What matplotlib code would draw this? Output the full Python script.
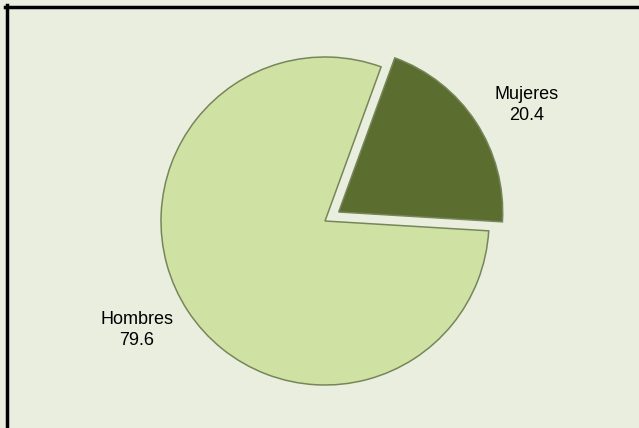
import matplotlib.pyplot as plt

# data
labels = ["Mujeres", "Hombres"]
values = [20.4, 79.6]
colors = ["#5b6d2f", "#d0e2a3"]
explode = [0.1, 0.0]

W, H = 639, 428
R = 164  # pie radius in px
cx, cy = 325, 221  # pie centre in px (from top-left)

fig = plt.figure(figsize=(W / 100, H / 100), dpi=100)
fig.patch.set_facecolor("#eaeedf")
ax = fig.add_axes([0, 0, 1, 1])
ax.set_facecolor("#eaeedf")

wedges, _ = ax.pie(
    values,
    colors=colors,
    explode=explode,
    startangle=70,
    counterclock=False,
    radius=1,
    wedgeprops=dict(edgecolor="#76865a", linewidth=1.1),
)

# pixel-based limits so that radius and centre match the picture
ax.set_xlim(-cx / R, (W - cx) / R)
ax.set_ylim(-(H - cy) / R, cy / R)
ax.set_aspect("equal")
ax.axis("off")

# labels
ax.text((527 - cx) / R, (cy - 105) / R, f"{labels[0]}\n{values[0]}",
        ha="center", va="center", fontsize=13, family="Liberation Sans",
        linespacing=1.35)
ax.text((137 - cx) / R, (cy - 330) / R, f"{labels[1]}\n{values[1]}",
        ha="center", va="center", fontsize=13, family="Liberation Sans",
        linespacing=1.35)

# frame lines on left and top only
fig.add_artist(plt.Line2D([6.5 / W, 6.5 / W], [0, 1 - 5 / H], color="black", lw=2.5,
                          transform=fig.transFigure))
fig.add_artist(plt.Line2D([5 / W, 1], [1 - 6.5 / H, 1 - 6.5 / H], color="black", lw=2.5,
                          transform=fig.transFigure))

fig.savefig("out.png", dpi=100, facecolor=fig.get_facecolor())
